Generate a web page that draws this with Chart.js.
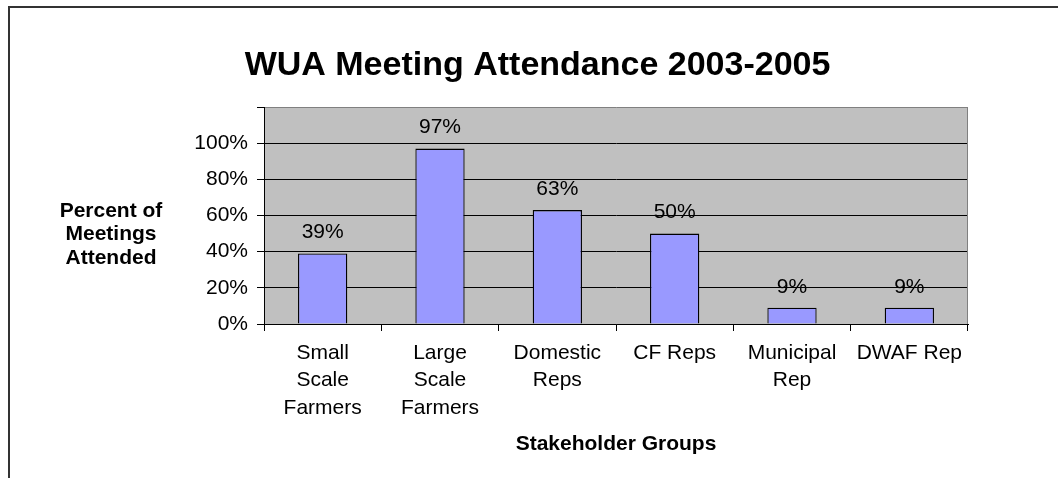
<!DOCTYPE html>
<html>
<head>
<meta charset="utf-8">
<title>WUA Meeting Attendance 2003-2005</title>
<script src="https://cdn.jsdelivr.net/npm/chart.js@4.4.1/dist/chart.umd.min.js"></script>
<style>
  html, body { margin: 0; padding: 0; background: #fff; }
  #wrap { position: relative; width: 1058px; height: 478px; overflow: hidden; }
  #frame {
    position: absolute; left: 8px; top: 6px; right: -4px; bottom: -4px;
    border-top: 2px solid #333; border-left: 2px solid #333;
    pointer-events: none;
  }
  canvas { display: block; }
</style>
</head>
<body>
<div id="wrap">
  <canvas id="chart" width="1058" height="478"></canvas>
  <div id="frame"></div>
</div>
<script>
/* ── Data ── */
const groups = [
  ['Small', 'Scale', 'Farmers'],
  ['Large', 'Scale', 'Farmers'],
  ['Domestic', 'Reps'],
  'CF Reps',
  ['Municipal', 'Rep'],
  'DWAF Rep'
];
const attendance = [39, 97, 63, 50, 9, 9];
const yTicks = [0, 20, 40, 60, 80, 100, 120];
const yTitleLines = ['Percent of', 'Meetings', 'Attended'];

const FONT = "'Liberation Sans', Arial, sans-serif";

/* ── Plot area background + right border ── */
const plotBg = {
  id: 'plotBg',
  beforeDraw(chart) {
    const { ctx, chartArea: a } = chart;
    ctx.save();
    ctx.fillStyle = '#c0c0c0';
    ctx.fillRect(a.left, a.top, a.right - a.left, a.bottom - a.top);
    ctx.restore();
  },
  beforeDatasetsDraw(chart) {
    const { ctx, chartArea: a } = chart;
    ctx.save();
    ctx.strokeStyle = '#808080';
    ctx.lineWidth = 1;
    ctx.beginPath();
    ctx.moveTo(a.right - 0.5, a.top);
    ctx.lineTo(a.right - 0.5, a.bottom);
    ctx.stroke();
    ctx.restore();
  }
};

/* ── Value labels above bars ── */
const valueLabels = {
  id: 'valueLabels',
  afterDatasetsDraw(chart) {
    const { ctx } = chart;
    const meta = chart.getDatasetMeta(0);
    ctx.save();
    ctx.font = `21px ${FONT}`;
    ctx.fillStyle = '#000';
    ctx.textAlign = 'center';
    ctx.textBaseline = 'middle';
    meta.data.forEach((bar, i) => {
      ctx.fillText(attendance[i] + '%', bar.x, bar.y - 21);
    });
    ctx.restore();
  }
};

/* ── Horizontal y-axis title ── */
const yTitle = {
  id: 'yTitle',
  afterDraw(chart) {
    const { ctx } = chart;
    const y = chart.scales.y;
    const cx = 111;
    const cy = (y.top + y.bottom) / 2 + 19;
    const lh = 23.5;
    ctx.save();
    ctx.font = `bold 21px ${FONT}`;
    ctx.fillStyle = '#000';
    ctx.textAlign = 'center';
    ctx.textBaseline = 'middle';
    yTitleLines.forEach((t, i) => {
      ctx.fillText(t, cx, cy + (i - 1) * lh);
    });
    ctx.restore();
  }
};

new Chart(document.getElementById('chart'), {
  type: 'bar',
  data: {
    labels: groups,
    datasets: [{
      data: attendance,
      backgroundColor: '#9999ff',
      borderColor: '#000',
      borderWidth: 1.3,
      barPercentage: 0.42,
      categoryPercentage: 1
    }]
  },
  options: {
    responsive: false,
    animation: false,
    devicePixelRatio: 1,
    layout: { padding: { left: 17, right: 0, top: 0, bottom: 0 } },
    plugins: {
      legend: { display: false },
      tooltip: { enabled: false },
      title: {
        display: true,
        text: 'WUA Meeting Attendance 2003-2005',
        color: '#000',
        font: { family: FONT, size: 34, weight: 'bold', lineHeight: 1.2 },
        padding: { top: 45.6, bottom: 20.6 }
      }
    },
    scales: {
      x: {
        offset: true,
        grid: {
          offset: true,
          drawOnChartArea: false,
          drawTicks: true,
          tickLength: 7,
          tickColor: '#000'
        },
        border: { display: true, color: '#000', width: 1 },
        ticks: {
          color: '#000',
          font: { family: FONT, size: 21, lineHeight: 1.31 },
          padding: 8,
          maxRotation: 0,
          autoSkip: false
        },
        title: {
          display: true,
          text: 'Stakeholder Groups',
          color: '#000',
          font: { family: FONT, size: 21, weight: 'bold', lineHeight: 1.2 },
          padding: { top: 0, bottom: 21.4 }
        },
        afterFit(scale) { scale.height = 154; }
      },
      y: {
        min: 0,
        max: 120,
        afterBuildTicks(scale) { scale.ticks = yTicks.map(v => ({ value: v })); },
        grid: {
          color: ctx => (ctx.tick && ctx.tick.value === 120) ? '#808080' : '#000',
          lineWidth: 1,
          tickLength: 7,
          tickColor: '#000'
        },
        border: { display: true, color: '#000', width: 1 },
        ticks: {
          color: '#000',
          font: { family: FONT, size: 21 },
          padding: 9,
          callback: v => v === 120 ? '' : v + '%'
        },
        afterFit(scale) { scale.width = 247; }
      },
      pad: {
        position: 'right',
        display: true,
        grid: { display: false },
        border: { display: false },
        ticks: { display: false },
        afterFit(scale) { scale.width = 90; }
      }
    }
  },
  plugins: [plotBg, valueLabels, yTitle]
});
</script>
</body>
</html>
